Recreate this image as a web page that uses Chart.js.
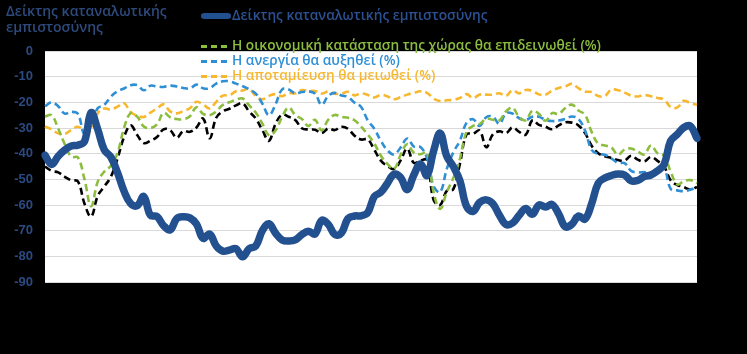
<!DOCTYPE html>
<html>
<head>
<meta charset="utf-8">
<script src="https://cdn.jsdelivr.net/npm/chart.js@4.4.1/dist/chart.umd.min.js"></script>
<style>
    html, body { margin: 0; padding: 0; background: #000; }
    #wrap { position: relative; width: 747px; height: 354px; overflow: hidden; }
    #chart { position: absolute; left: 0; top: 0; }
    .ytitle {
        position: absolute; left: 6px; top: 3px;
        font: 600 14px "Open Sans", sans-serif;
        line-height: 16px; color: #2E4A7C;
    }
    .leg {
        position: absolute; left: 201px; height: 15px; line-height: 15px;
        font: 600 13.7px "Open Sans", sans-serif;
        white-space: nowrap;
    }
    .sw { display: inline-block; width: 30px; vertical-align: middle; margin-right: 1px; }
    .solid { height: 6px; border-radius: 3px; background: #23508E; }
    .dash { height: 3px; }
</style>
</head>
<body>
<div id="wrap">
    <canvas id="chart" width="747" height="354"></canvas>
    <div class="ytitle">Δείκτης καταναλωτικής<br>εμπιστοσύνης</div>
    <div class="leg" style="top:5px;color:#2C5192"><span class="sw solid"></span>Δείκτης καταναλωτικής εμπιστοσύνης</div>
    <div class="leg" style="top:35px;color:#8CBD3F"><span class="sw dash" style="background:repeating-linear-gradient(to right,#8CBD3F 0 6px,transparent 6px 10px)"></span>Η οικονομική κατάσταση της χώρας θα επιδεινωθεί (%)</div>
    <div class="leg" style="top:50px;color:#2F8FD5"><span class="sw dash" style="background:repeating-linear-gradient(to right,#2F8FD5 0 6px,transparent 6px 10px)"></span>Η ανεργία θα αυξηθεί (%)</div>
    <div class="leg" style="top:65px;color:#F7B830"><span class="sw dash" style="background:repeating-linear-gradient(to right,#F7B830 0 6px,transparent 6px 10px)"></span>Η αποταμίευση θα μειωθεί (%)</div>
</div>
<script>
// monthly observations, x labels are not shown in the picture
const periods = Array.from({ length: 100 }, (_, i) => 'm' + (i + 1));

const yTicks = [0, -10, -20, -30, -40, -50, -60, -70, -80, -90];

const confidence = [
    -40.6, -44.2, -41, -38.6, -37, -36.7, -35.2, -24, -30.5, -38.5,
    -41.3, -47.3, -54.6, -59.4, -60.3, -56.7, -64, -64.5, -68, -69.7,
    -65.3, -64.6, -65, -67.4, -73, -71.3, -76, -78, -77.6, -77,
    -80.2, -77, -76, -70, -67.3, -71, -73.6, -74, -73.6, -71.5,
    -70.2, -71.3, -66, -67.5, -71.5, -71, -65.3, -64.3, -64.2, -63,
    -56.7, -55, -51.5, -48, -49.3, -54, -48.3, -44, -48.5, -39,
    -32, -41, -45, -50.5, -60.5, -62.5, -59, -58, -59.5, -64,
    -67.6, -67, -64, -61.4, -63.6, -60, -60.8, -59.8, -63.5, -68.5,
    -67.5, -64.3, -65.5, -59.5, -51.5, -49.5, -48.5, -47.9, -48.3, -50.6,
    -50.4, -48.9, -48.3, -46.7, -44.2, -35, -32.5, -29.8, -29.3, -34
];

const economyWorse = [
    -25.5, -25, -30.2, -36.3, -41.2, -41.5, -50, -60.5, -51, -47,
    -44.7, -39.8, -30, -24.2, -25.6, -29.4, -30, -28.6, -24.1, -25.8,
    -26.5, -26.6, -25.4, -21.9, -24.5, -25, -23.5, -21, -20, -19,
    -18.5, -21.2, -24, -28.3, -32.8, -31, -25.7, -22, -25, -26.5,
    -29.2, -26.8, -31, -26.8, -24.9, -25.7, -26, -27, -29.5, -32.5,
    -36, -40.8, -44, -46, -40.5, -36.3, -39.6, -40.2, -39.5, -55,
    -61.5, -55, -49.5, -42, -31.5, -29.2, -28.5, -26.4, -26.8, -27,
    -23.5, -22.1, -25.8, -27, -23.3, -24.5, -27.2, -24.2, -24.5, -22.2,
    -20.9, -23.2, -24.8, -31.5, -36.1, -36.8, -37.6, -40.4, -38.4, -38,
    -39.2, -40.3, -36.8, -39.8, -40.9, -47, -52, -50.7, -50.3, -51.5
];

const unemploymentUp = [
    -21.5, -20, -21.5, -24.4, -23.7, -24.5, -32.5, -29, -22.3, -21,
    -17.8, -15.7, -14.6, -13.3, -13.3, -15.3, -13.5, -13.8, -14, -13.5,
    -13.8, -14.4, -14.6, -13.1, -14.5, -14.5, -12.7, -11.8, -11.8, -12.7,
    -13.7, -14.9, -16.6, -20.5, -25, -20.8, -15, -15, -16.5, -16,
    -15.7, -16.6, -21, -17.5, -16.3, -17.3, -17.9, -20.1, -21.8, -27,
    -30.3, -35, -38.7, -40.3, -37.6, -34.1, -37.2, -37.4, -41.7, -52.6,
    -55, -46, -39.5, -34.9, -28, -26.6, -29.2, -25.8, -25.6, -28.4,
    -24.2, -24.4, -26.2, -26.9, -25.6, -25.6, -26.8, -27.3, -27.1, -26.5,
    -25.5, -26.5, -31, -38.5, -40.1, -40.4, -41.8, -43.6, -43.7, -46.7,
    -47.3, -47.2, -47.4, -45.6, -45.6, -53.7, -54.3, -54.6, -54, -53
];

const savingsDown = [
    -29.4, -30.5, -32.1, -32.3, -30.7, -29.5, -31, -31, -24.3, -22.4,
    -22.8, -21.7, -20.3, -23.8, -25.2, -25.7, -24, -22.4, -20.8, -23.5,
    -24.3, -23.4, -22.3, -19.8, -20.8, -22.4, -19.8, -17.4, -17.3, -15.7,
    -15.4, -14.8, -17.5, -18.8, -17.5, -16.8, -17.6, -16.4, -16.5, -15.2,
    -15.6, -15.6, -16.6, -15.8, -16.6, -16.7, -15.9, -17.3, -16.5, -17.1,
    -18.1, -17.1, -17.7, -18.8, -18, -17, -16.3, -15.7, -16.3, -18.5,
    -19.5, -19.2, -19, -18.3, -16.8, -18.3, -17, -17, -17, -16.5,
    -17.5, -15.3, -16.5, -15.2, -15.5, -16.9, -17, -15.4, -14.4, -13.8,
    -12.8, -14.5, -15.8, -16, -17.5, -17.6, -15, -15.3, -16.2, -17.4,
    -17.7, -17.2, -17.6, -18.3, -18.9, -21.8, -22, -19.4, -20.3, -21
];

// black dashed series, its legend entry is black on black in the original
const expectations = [
    -45, -46.7, -47.3, -49, -50.4, -50.8, -59.5, -64.5, -56.5, -52.8,
    -49, -42, -33.5, -29, -32.7, -35.9, -35, -33.5, -30.5, -30.8,
    -33.8, -31.2, -31.5, -29.8, -26.3, -34, -26, -23.5, -22.5, -21.2,
    -20.4, -23.6, -26.3, -30.8, -35, -28.4, -24.8, -25.6, -26.9, -30.1,
    -30.6, -30.7, -32, -30.2, -30.8, -29.5, -30.3, -33, -34.5, -34.4,
    -38.5, -42.7, -44.8, -46, -42.6, -38, -43.6, -42.7, -42.5, -58,
    -60, -54.5, -53.8, -44, -32.5, -32.2, -31, -37.5, -32.5, -31.3,
    -32, -29.8, -31.5, -32.6, -27, -28.8, -29.5, -30.5, -29, -27.8,
    -27.9, -29, -32, -36.9, -39.8, -41, -41.7, -42.5, -42.7, -40.8,
    -42.3, -43, -41.3, -42.8, -45, -50.4, -52.2, -53, -54, -53
];

const plotBackground = {
    id: 'plotBackground',
    beforeDraw(chart) {
        const { ctx, chartArea } = chart;
        ctx.save();
        ctx.fillStyle = '#000000';
        ctx.fillRect(0, 0, chart.width, chart.height);
        ctx.fillStyle = '#ffffff';
        ctx.fillRect(chartArea.left, chartArea.top, chartArea.right - chartArea.left, chartArea.bottom - chartArea.top);
        ctx.restore();
    }
};

function dashed(label, data, color) {
    return {
        label: label,
        data: data,
        borderColor: color,
        borderWidth: 2.6,
        borderDash: [7, 4],
        pointRadius: 0,
        tension: 0.4,
        fill: false
    };
}

new Chart(document.getElementById('chart').getContext('2d'), {
    type: 'line',
    data: {
        labels: periods,
        datasets: [
            {
                label: 'Δείκτης καταναλωτικής εμπιστοσύνης',
                data: confidence,
                borderColor: '#23508E',
                borderWidth: 7.5,
                borderCapStyle: 'round',
                borderJoinStyle: 'round',
                pointRadius: 0,
                tension: 0.4,
                fill: false
            },
            dashed('Η οικονομική κατάσταση της χώρας θα επιδεινωθεί (%)', economyWorse, '#8CBD3F'),
            dashed('Η ανεργία θα αυξηθεί (%)', unemploymentUp, '#2F8FD5'),
            dashed('Η αποταμίευση θα μειωθεί (%)', savingsDown, '#F7B830'),
            dashed('', expectations, '#000000')
        ]
    },
    options: {
        responsive: false,
        devicePixelRatio: 1,
        animation: false,
        layout: { padding: { top: 51, right: 50, bottom: 72, left: 0 } },
        plugins: {
            legend: { display: false },
            tooltip: { enabled: false }
        },
        scales: {
            x: { display: false },
            y: {
                min: -90,
                max: 0,
                afterFit(scale) { scale.width = 45; },
                afterBuildTicks(scale) { scale.ticks = yTicks.map(v => ({ value: v })); },
                border: { display: false },
                grid: { color: '#d9d9d9', lineWidth: 1, drawTicks: false },
                ticks: {
                    padding: 12,
                    color: '#2C4A82',
                    font: { family: '"Liberation Sans", Arial, sans-serif', size: 13, weight: 'bold' }
                }
            }
        }
    },
    plugins: [plotBackground]
});
</script>
</body>
</html>
